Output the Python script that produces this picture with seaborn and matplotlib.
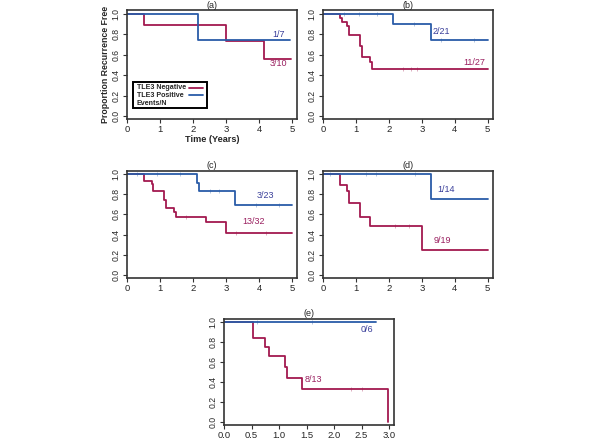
import numpy as np
import pandas as pd
import seaborn as sns
import matplotlib
matplotlib.use("Agg")
import matplotlib.pyplot as plt
from matplotlib.patches import Rectangle

# survival steps: times where the curve changes, and the level after
a_neg_t = [0, 0.5, 3.0, 4.15, 4.97]
a_neg_s = [1.0, 0.89, 0.74, 0.556, 0.556]
a_pos_t = [0, 2.15, 4.93]
a_pos_s = [1.0, 0.75, 0.75]

b_neg_t = [0, 0.51, 0.57, 0.73, 0.8, 1.12, 1.17, 1.42, 1.49, 5.0]
b_neg_s = [1.0, 0.96, 0.92, 0.88, 0.79, 0.69, 0.58, 0.53, 0.465, 0.465]
b_pos_t = [0, 2.13, 3.27, 5.0]
b_pos_s = [1.0, 0.90, 0.75, 0.75]

c_neg_t = [0, 0.5, 0.75, 0.78, 1.12, 1.17, 1.42, 1.49, 2.38, 3.0, 5.0]
c_neg_s = [1.0, 0.935, 0.90, 0.83, 0.74, 0.66, 0.62, 0.573, 0.525, 0.42, 0.42]
c_pos_t = [0, 2.13, 2.17, 3.28, 5.0]
c_pos_s = [1.0, 0.91, 0.832, 0.693, 0.693]

d_neg_t = [0, 0.51, 0.74, 0.8, 1.12, 1.42, 3.0, 5.0]
d_neg_s = [1.0, 0.894, 0.835, 0.716, 0.574, 0.488, 0.244, 0.244]
d_pos_t = [0, 3.27, 5.0]
d_pos_s = [1.0, 0.75, 0.75]

e_neg_t = [0, 0.53, 0.75, 0.81, 1.11, 1.14, 1.41, 2.99, 2.99]
e_neg_s = [1.0, 0.844, 0.75, 0.66, 0.546, 0.437, 0.33, 0.0, 0.0]
e_pos_t = [0, 2.77]
e_pos_s = [1.0, 1.0]

# censoring marks (time, level)
b_pos_cens = [(0.63, 1.0), (1.09, 1.0), (1.65, 1.0), (2.76, 0.90), (3.58, 0.75), (4.59, 0.75)]
b_neg_cens = [(2.42, 0.465), (2.66, 0.465), (2.87, 0.465)]
c_pos_cens = [(0.3, 1.0), (0.9, 1.0), (1.6, 1.0), (2.5, 0.832), (2.8, 0.832), (3.9, 0.693), (4.6, 0.693)]
c_neg_cens = [(1.8, 0.573), (3.3, 0.42), (4.2, 0.42)]
d_pos_cens = [(0.2, 1.0), (1.3, 1.0), (1.6, 1.0), (2.8, 1.0)]
d_neg_cens = [(2.2, 0.488), (2.6, 0.488)]
e_pos_cens = [(0.6, 1.0), (1.6, 1.0)]
e_neg_cens = [(2.3, 0.33), (2.5, 0.33)]

panel_titles = ["(a)", "(b)", "(c)", "(d)", "(e)"]
counts = [("1/7", "3/10"), ("2/21", "11/27"), ("3/23", "13/32"), ("1/14", "9/19"), ("0/6", "8/13")]
legend_labels = ["TLE3 Negative", "TLE3 Positive", "Events/N"]

RED = "#a3194f"
BLUE = "#2a5ca8"
RED_TXT = "#9a2060"
BLUE_TXT = "#3a3f9a"

sns.set_style("ticks")
plt.rcParams["font.family"] = ["Liberation Sans", "DejaVu Sans"]

W, H = 600, 442
fig = plt.figure(figsize=(6, 4.42), dpi=100)


def px_axes(left, top, right, bottom):
    return fig.add_axes([left / W, 1 - bottom / H, (right - left) / W, (bottom - top) / H])


def km(ax, t, s, color):
    df = pd.DataFrame({"t": t, "s": s})
    sns.lineplot(data=df, x="t", y="s", ax=ax, color=color, lw=1.3,
                 drawstyle="steps-post", estimator=None, sort=False, legend=False)


def cens(ax, pts, color):
    if not pts:
        return
    df = pd.DataFrame(pts, columns=["t", "s"])
    sns.scatterplot(data=df, x="t", y="s", ax=ax, marker="|", s=12, color=color,
                    linewidth=0.5, alpha=0.5, legend=False)


def style(ax, xlim, ylim, xticks, xfmt):
    ax.set_xlim(*xlim)
    ax.set_ylim(*ylim)
    ax.set_xticks(xticks)
    ax.set_xticklabels([xfmt.format(v) for v in xticks])
    ax.set_yticks([0, 0.2, 0.4, 0.6, 0.8, 1.0])
    ax.set_yticklabels(["0.0", "0.2", "0.4", "0.6", "0.8", "1.0"], rotation=90, va="center")
    ax.tick_params(direction="out", length=3, width=0.8, pad=1.5, color="#333333")
    ax.tick_params(axis="x", labelsize=6.8)
    ax.tick_params(axis="y", labelsize=6.2)
    for sp in ax.spines.values():
        sp.set_visible(True)
        sp.set_color("#333333")
        sp.set_linewidth(1.2)
    ax.set_xlabel("")
    ax.set_ylabel("")


rects = [
    (127, 10.5, 297, 119),
    (323, 10.5, 492.5, 119),
    (127, 171, 297, 278),
    (323, 171, 492.5, 278),
    (224, 319, 394, 425),
]
limits = [
    ((0, 5.15), (-0.03, 1.035)),
    ((0, 5.15), (-0.03, 1.035)),
    ((0, 5.15), (-0.03, 1.03)),
    ((0, 5.15), (-0.03, 1.03)),
    ((0, 3.09), (-0.03, 1.03)),
]
curves = [
    (a_neg_t, a_neg_s, a_pos_t, a_pos_s, [], []),
    (b_neg_t, b_neg_s, b_pos_t, b_pos_s, b_neg_cens, b_pos_cens),
    (c_neg_t, c_neg_s, c_pos_t, c_pos_s, c_neg_cens, c_pos_cens),
    (d_neg_t, d_neg_s, d_pos_t, d_pos_s, d_neg_cens, d_pos_cens),
    (e_neg_t, e_neg_s, e_pos_t, e_pos_s, e_neg_cens, e_pos_cens),
]
# label positions (x, y) for positive / negative counts
label_pos = [
    ((4.6, 0.80), (4.6, 0.51)),
    ((3.58, 0.83), (4.6, 0.52)),
    ((4.19, 0.79), (3.83, 0.525)),
    ((3.75, 0.85), (3.62, 0.34)),
    ((2.59, 0.92), (1.63, 0.42)),
]

axes = []
for i, rect in enumerate(rects):
    ax = px_axes(*rect)
    nt, ns, pt, ps, nc, pc = curves[i]
    km(ax, nt, ns, RED)
    km(ax, pt, ps, BLUE)
    cens(ax, nc, RED)
    cens(ax, pc, BLUE)
    if i == 4:
        style(ax, *limits[i], [0, 0.5, 1.0, 1.5, 2.0, 2.5, 3.0], "{:.1f}")
    else:
        style(ax, *limits[i], [0, 1, 2, 3, 4, 5], "{:d}")
    ax.set_title(panel_titles[i], fontsize=6.5, pad=2)
    (px, py), (nx, ny) = label_pos[i]
    ax.text(px, py, counts[i][0], color=BLUE_TXT, fontsize=6.5, ha="center", va="center")
    ax.text(nx, ny, counts[i][1], color=RED_TXT, fontsize=6.5, ha="center", va="center")
    axes.append(ax)

ax = axes[0]
ax.set_ylabel("Proportion Recurrence Free", fontsize=6.3, fontweight="bold", labelpad=1)
ax.set_xlabel("Time (Years)", fontsize=6.6, fontweight="bold", labelpad=0.5)

# legend box drawn by hand so the text stays left-aligned with lines on the right
ax.add_patch(Rectangle((0.035, 0.101), 0.435, 0.24, transform=ax.transAxes,
                       facecolor="white", edgecolor="black", lw=1.4, zorder=5))
row_y = [0.286, 0.217, 0.147]
for lab, yy in zip(legend_labels, row_y):
    ax.text(0.056, yy, lab, transform=ax.transAxes, fontsize=5.1, fontweight="bold",
            ha="left", va="center", zorder=6)
for col, yy in zip([RED, BLUE], row_y[:2]):
    ax.plot([0.365, 0.447], [yy, yy], transform=ax.transAxes, color=col, lw=1.3, zorder=6)

fig.savefig("out.png", dpi=100)
